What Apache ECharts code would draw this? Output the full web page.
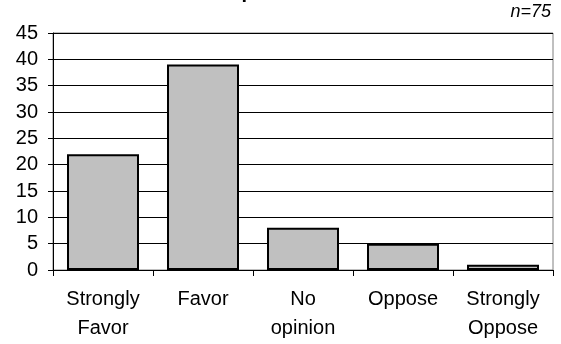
<!DOCTYPE html>
<html>
<head>
<meta charset="utf-8">
<script src="https://cdn.jsdelivr.net/npm/echarts@6/dist/echarts.min.js"></script>
<style>
  html, body { margin: 0; padding: 0; background: #fff; }
  #chart { width: 561px; height: 344px; }
</style>
</head>
<body>
<div id="chart"></div>
<script>
var categories = ['Strongly Favor', 'Favor', 'No opinion', 'Oppose', 'Strongly Oppose'];
var counts = [22, 39, 8, 5, 1];
var yTicks = [0, 5, 10, 15, 20, 25, 30, 35, 40, 45];
var titleText = 'Insurance/parent to advocate';
var sampleNote = 'n=75';

var chart = echarts.init(document.getElementById('chart'), null, { renderer: 'canvas' });

var option = {
  animation: false,
  textStyle: { fontFamily: 'Liberation Sans, Arial, sans-serif' },
  title: {
    text: titleText,
    left: 'center',
    top: -23,
    textStyle: { fontSize: 20, fontWeight: 'bold', color: '#000' }
  },
  graphic: [{
    type: 'text',
    right: 10,
    top: 3,
    style: {
      text: sampleNote,
      font: 'italic 18px "Liberation Sans", Arial, sans-serif',
      fill: '#000'
    }
  }],
  grid: {
    left: 53,
    right: 8,
    top: 33,
    bottom: 74,
    show: true,
    borderColor: '#808080',
    borderWidth: 1,
    backgroundColor: 'transparent'
  },
  xAxis: {
    type: 'category',
    data: categories,
    axisLine: { lineStyle: { color: '#000', width: 1 } },
    axisTick: { show: true, alignWithLabel: false, length: 6, lineStyle: { color: '#000' } },
    axisLabel: {
      color: '#000',
      fontSize: 20,
      lineHeight: 29,
      margin: 15,
      interval: 0,
      formatter: function (v) { return v.replace(' ', '\n'); }
    },
    splitLine: { show: false }
  },
  yAxis: {
    type: 'value',
    min: yTicks[0],
    max: yTicks[yTicks.length - 1],
    interval: 5,
    axisLine: { show: true, lineStyle: { color: '#000', width: 1 } },
    axisTick: { show: true, length: 5, lineStyle: { color: '#000' } },
    axisLabel: { color: '#000', fontSize: 20, margin: 15 },
    splitLine: { show: true, lineStyle: { color: '#000', width: 1 } }
  },
  series: [{
    type: 'bar',
    data: counts,
    barWidth: '72%',
    itemStyle: { color: '#c0c0c0', borderColor: '#000', borderWidth: 2 }
  }]
};

chart.setOption(option);
</script>
</body>
</html>
